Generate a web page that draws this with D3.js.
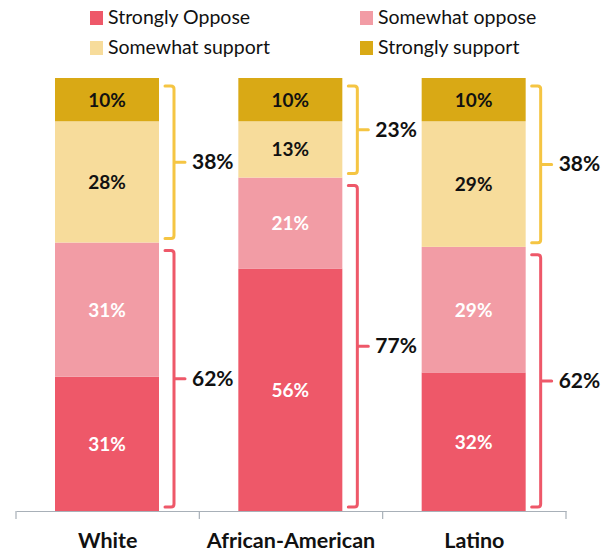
<!DOCTYPE html>
<html><head><meta charset="utf-8">
<script src="https://cdn.jsdelivr.net/npm/d3@7"></script>
<style>body{margin:0;background:#fff}svg{display:block}</style>
</head><body>
<script>
const categories = ["White", "African-American", "Latino"];
const seriesNames = ["Strongly Oppose", "Somewhat oppose", "Somewhat support", "Strongly support"];
const stronglyOppose = [31, 56, 32];
const somewhatOppose = [31, 21, 29];
const somewhatSupport = [28, 13, 29];
const stronglySupport = [10, 10, 10];
const opposeTotals = [62, 77, 62];
const supportTotals = [38, 23, 38];
const colors = ["#EE5869", "#F29CA5", "#F7DC9B", "#D9A915"];
const labelColors = ["#ffffff", "#ffffff", "#111111", "#111111"];

const W = 616, H = 552;
const svg = d3.select("body").append("svg").attr("width", W).attr("height", H);

const x = d3.scaleBand().domain(categories).range([16, 566]).paddingInner(0).paddingOuter(0);
const y = d3.scaleLinear().domain([0, 100]).range([511, 78]);
const barOffset = 39, barW = 104;

const rows = categories.map((c, i) => ({cat: c, v: [stronglyOppose[i], somewhatOppose[i], somewhatSupport[i], stronglySupport[i]]}));
const stack = d3.stack().keys([0,1,2,3]).value((d, k) => d.v[k]);
const series = stack(rows);

// legend
const legendItems = [
  {i:0, x:90, y:11}, {i:1, x:360, y:11},
  {i:2, x:90, y:41}, {i:3, x:360, y:41}
];
const lg = svg.append("g");
legendItems.forEach(it => {
  lg.append("rect").attr("x", it.x).attr("y", it.y).attr("width", 13).attr("height", 14).attr("fill", colors[it.i]);
  lg.append("text").attr("x", it.x + 18).attr("y", it.y + 13).text(seriesNames[it.i])
    .attr("font-family", "Lato, sans-serif").attr("font-size", 19.5).attr("fill", "#111");
});

// bars
series.forEach((s, k) => {
  const g = svg.append("g");
  g.selectAll("rect").data(s).join("rect")
    .attr("x", d => x(d.data.cat) + barOffset)
    .attr("y", d => y(d[1]))
    .attr("width", barW)
    .attr("height", d => y(d[0]) - y(d[1]))
    .attr("fill", colors[k]);
  g.selectAll("text").data(s).join("text")
    .attr("x", d => x(d.data.cat) + barOffset + barW / 2)
    .attr("y", d => (y(d[0]) + y(d[1])) / 2 + 7)
    .attr("text-anchor", "middle")
    .attr("font-family", "Lato, sans-serif").attr("font-weight", 700).attr("font-size", 19)
    .attr("fill", labelColors[k])
    .text(d => (d[1] - d[0]) + "%");
});

// brackets
function bracket(cat, lo, hi, color, label) {
  const x0 = x(cat) + barOffset + barW + 6;
  const xv = x0 + 9;
  const xm = xv + 11;
  const yt = y(hi) + 8, yb = y(lo) - 4;
  const ym = (yt + yb) / 2;
  const r = 3;
  const p = d3.path();
  p.moveTo(x0, yt);
  p.lineTo(xv - r, yt);
  p.quadraticCurveTo(xv, yt, xv, yt + r);
  p.lineTo(xv, yb - r);
  p.quadraticCurveTo(xv, yb, xv - r, yb);
  p.lineTo(x0, yb);
  p.moveTo(xv, ym);
  p.lineTo(xm, ym);
  svg.append("path").attr("d", p.toString()).attr("fill", "none")
    .attr("stroke", color).attr("stroke-width", 3).attr("stroke-linecap", "round").attr("stroke-linejoin", "round");
  svg.append("text").attr("x", xm + 7).attr("y", ym + 7)
    .attr("font-family", "Lato, sans-serif").attr("font-weight", 700).attr("font-size", 21).attr("fill", "#111")
    .text(label + "%");
}
categories.forEach((c, i) => {
  bracket(c, 100 - stronglySupport[i] - somewhatSupport[i], 100, "#F5C543", supportTotals[i]);
  bracket(c, 0, stronglyOppose[i] + somewhatOppose[i], "#EE5869", opposeTotals[i]);
});

// axis
const axis = d3.axisBottom(x).tickSize(0).tickPadding(22);
const ag = svg.append("g").attr("transform", "translate(0,511)").call(axis);
ag.select(".domain").attr("stroke", "#A8B0B8").attr("stroke-width", 1.2);
ag.selectAll("text").attr("font-family", "Lato, sans-serif").attr("font-weight", 700).attr("font-size", 21.5).attr("fill", "#111");
const edges = categories.map(c => x(c)).concat([x.range()[1]]);
ag.selectAll("line.sep").data(edges).join("line").attr("class", "sep")
  .attr("x1", d => d).attr("x2", d => d).attr("y1", 0).attr("y2", 8)
  .attr("stroke", "#A8B0B8").attr("stroke-width", 1.2);
</script>
</body></html>
